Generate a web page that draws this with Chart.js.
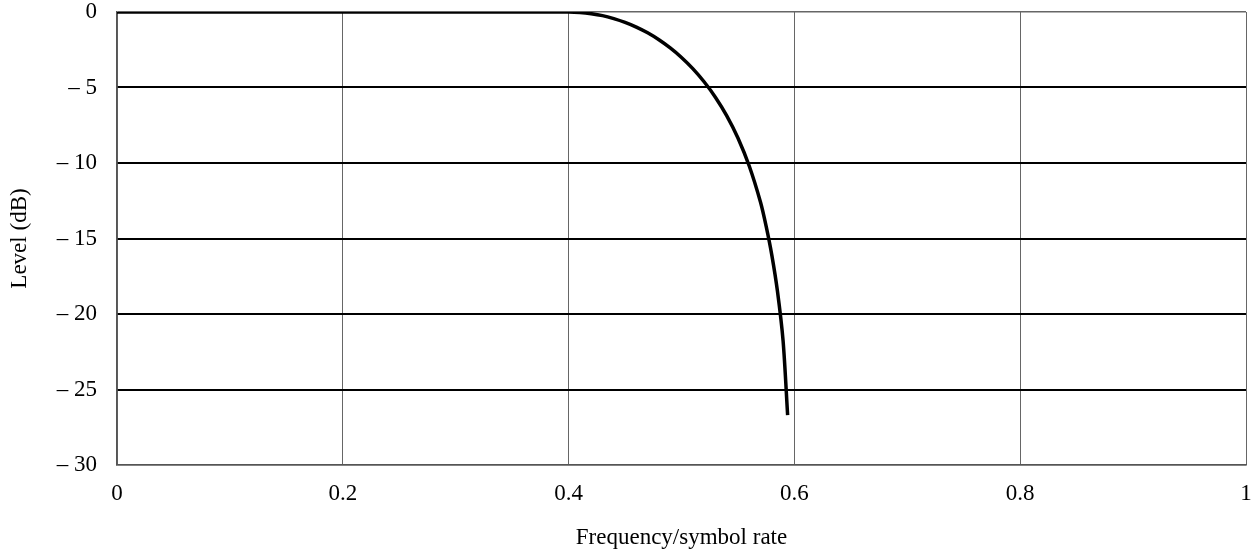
<!DOCTYPE html>
<html>
<head>
<meta charset="utf-8">
<script src="https://cdn.jsdelivr.net/npm/chart.js@4/dist/chart.umd.min.js"></script>
<style>
  html, body { margin: 0; padding: 0; background: #fff; }
  #wrap { width: 1256px; height: 558px; }
</style>
</head>
<body>
<div id="wrap"><canvas id="grafico" width="1256" height="558"></canvas></div>
<script>
// valores
const frequencias = [0, 0.40, 0.41, 0.42, 0.43, 0.44, 0.45, 0.46, 0.47, 0.48, 0.49, 0.50,
  0.51, 0.52, 0.53, 0.54, 0.55, 0.56, 0.57, 0.575, 0.58, 0.585, 0.59, 0.594];
const niveis = [0, 0, -0.03, -0.11, -0.24, -0.44, -0.69, -1.0, -1.38, -1.84, -2.38, -3.01,
  -3.75, -4.62, -5.64, -6.86, -8.34, -10.2, -12.6, -14.2, -16.1, -18.5, -21.8, -26.7];
const ticksX = [0, 0.2, 0.4, 0.6, 0.8, 1];
const ticksY = [0, -5, -10, -15, -20, -25, -30];

const pontos = frequencias.map((f, i) => ({ x: f, y: niveis[i] }));
const fonte = { family: "'Liberation Serif', 'Times New Roman', serif", size: 23 };

new Chart(document.getElementById('grafico'), {
  type: 'line',
  data: {
    datasets: [{
      data: pontos,
      borderColor: '#000',
      borderWidth: 3.5,
      pointRadius: 0,
      tension: 0.3,
      fill: false
    }]
  },
  options: {
    responsive: false,
    animation: false,
    layout: { padding: { top: 12, right: 10, left: 0, bottom: 0 } },
    plugins: { legend: { display: false }, tooltip: { enabled: false } },
    scales: {
      x: {
        type: 'linear',
        min: 0, max: 1,
        afterBuildTicks: s => { s.ticks = ticksX.map(v => ({ value: v })); },
        afterFit: s => { s.height = 93; s.paddingLeft = 0; s.paddingRight = 0; },
        ticks: { color: '#000', font: fonte, padding: 15, maxRotation: 0,
          callback: v => String(v) },
        grid: { color: '#666', lineWidth: 1, drawTicks: false },
        border: { color: '#555', width: 1.5 },
        title: { display: true, text: 'Frequency/symbol rate', color: '#000',
          font: fonte, padding: { top: 0, bottom: 6 } }
      },
      y: {
        type: 'linear',
        min: -30, max: 0,
        afterBuildTicks: s => { s.ticks = ticksY.map(v => ({ value: v })); },
        afterFit: s => { s.width = 117; s.paddingTop = 0; s.paddingBottom = 0; },
        ticks: { color: '#000', font: fonte, padding: 20,
          callback: v => v === 0 ? '0' : '\u2013 ' + Math.abs(v) },
        grid: {
          drawTicks: false,
          color: c => (c.tick.value === 0 || c.tick.value === -30) ? '#666' : '#000',
          lineWidth: c => (c.tick.value === 0 || c.tick.value === -30) ? 1.5 : 2
        },
        border: { color: '#555', width: 1.5 },
        title: { display: true, text: 'Level (dB)', color: '#000', font: fonte,
          padding: { top: 6, bottom: 0 } }
      }
    }
  }
});
</script>
</body>
</html>
